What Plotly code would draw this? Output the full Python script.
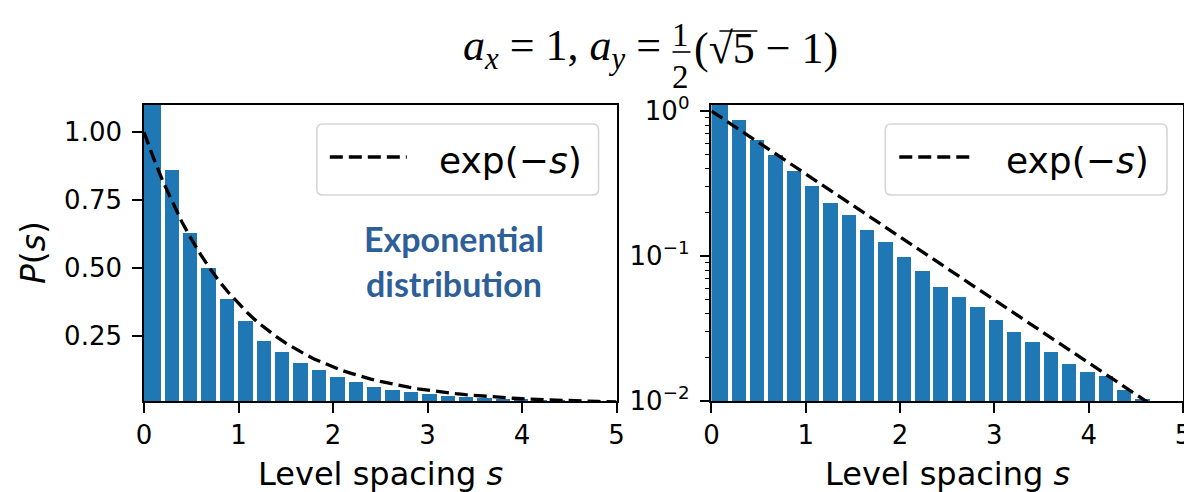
import plotly.graph_objects as go

# ---------------- data ----------------
BIN_CENTERS = [0.100, 0.295, 0.489, 0.684, 0.878, 1.073, 1.268, 1.462, 1.657, 1.851,
               2.046, 2.241, 2.435, 2.630, 2.824, 3.019, 3.214, 3.408, 3.603, 3.797,
               3.992, 4.187, 4.381, 4.576]
P_VALUES = [1.18, 0.862, 0.630, 0.499, 0.386, 0.303, 0.232, 0.191, 0.151, 0.124,
            0.0987, 0.0794, 0.0612, 0.0519, 0.0445, 0.0360, 0.0299, 0.0256, 0.0219, 0.0180,
            0.0159, 0.0148, 0.0119, 0.0104]
S_CURVE = [0.0, 0.1, 0.2, 0.3, 0.4, 0.5, 0.6, 0.7, 0.8, 0.9, 1.0, 1.1, 1.2, 1.3, 1.4,
           1.5, 1.6, 1.7, 1.8, 1.9, 2.0, 2.1, 2.2, 2.3, 2.4, 2.5, 2.6, 2.7, 2.8, 2.9,
           3.0, 3.1, 3.2, 3.3, 3.4, 3.5, 3.6, 3.7, 3.8, 3.9, 4.0, 4.1, 4.2, 4.3, 4.4,
           4.5, 4.6, 4.7, 4.8, 4.9, 5.0]
EXP_CURVE = [1.000, 0.905, 0.819, 0.741, 0.670, 0.607, 0.549, 0.497, 0.449, 0.407,
             0.368, 0.333, 0.301, 0.273, 0.247, 0.223, 0.202, 0.183, 0.165, 0.150,
             0.135, 0.122, 0.111, 0.100, 0.0907, 0.0821, 0.0743, 0.0672, 0.0608, 0.0550,
             0.0498, 0.0450, 0.0408, 0.0369, 0.0334, 0.0302, 0.0273, 0.0247, 0.0224, 0.0202,
             0.0183, 0.0166, 0.0150, 0.0136, 0.0123, 0.0111, 0.0101, 0.00910, 0.00823,
             0.00745, 0.00674]
X_TICKS = [0, 1, 2, 3, 4, 5]
LIN_TICKS = [0.25, 0.50, 0.75, 1.00]
LIN_TICK_TEXT = ["0.25", "0.50", "0.75", "1.00"]
LOG_TICKS = [0.01, 0.1, 1]
LOG_TICK_TEXT = ["10<sup>−2</sup>", "10<sup>−1</sup>", "10<sup>0</sup>"]
LOG_MINOR = [0.02, 0.03, 0.04, 0.05, 0.06, 0.07, 0.08, 0.09,
             0.2, 0.3, 0.4, 0.5, 0.6, 0.7, 0.8, 0.9]
CURVE_LABEL = "exp(−<i>s</i>)"
X_TITLE = "Level spacing <i>s</i>"
Y_TITLE = "<i>P</i>(<i>s</i>)"
NOTE_LINES = ["Exponential", "distribution"]

# ---------------- layout geometry ----------------
# target positions are given in reference-image pixels; the page is rendered
# with an 8px body margin and comes out slightly narrowed horizontally (S).
OFF = 8
S = 1192 / 1200
PL, PR, PT, PB = 143, 1183, 105, 401          # plot area in reference pixels
W, H = 1184, 484
ML, MT = PL / S - OFF, PT - OFF
MR, MB = W - (PR / S - OFF), H - (PB - OFF)
PLr, PRr = PL / S, PR / S


def px(x):
    return (x / S - PLr) / (PRr - PLr)


def py(y):
    return (PB - y) / (PB - PT)


BLUE = "#1f77b4"
TXT_BLUE = "#2f5f98"
FONT = "DejaVu Sans"
SERIF = "Liberation Serif"

bar_w = [0.176] + [0.152] * (len(BIN_CENTERS) - 1)
bar_off = [-0.100] + [-0.076] * (len(BIN_CENTERS) - 1)

fig = go.Figure()
for xa, ya in (("x", "y"), ("x2", "y2")):
    fig.add_trace(go.Bar(x=BIN_CENTERS, y=P_VALUES, width=bar_w, offset=bar_off,
                         marker=dict(color=BLUE, line=dict(width=0)),
                         xaxis=xa, yaxis=ya, showlegend=False))
    fig.add_trace(go.Scatter(x=S_CURVE, y=EXP_CURVE, mode="lines",
                             line=dict(color="black", width=3.3, dash="13px,6px"),
                             name="exp(−s)", xaxis=xa, yaxis=ya, showlegend=False))

axis_common = dict(showline=True, linecolor="black", linewidth=1.6, mirror=True,
                   ticks="outside", ticklen=10, tickwidth=1.6, tickcolor="black",
                   showgrid=False, zeroline=False,
                   tickfont=dict(family=FONT, size=26, color="black"))

fig.update_layout(
    width=W, height=H,
    margin=dict(l=ML, r=MR, t=MT, b=MB, pad=0),
    paper_bgcolor="white", plot_bgcolor="white",
    bargap=0,
    xaxis=dict(domain=[0, px(616)], range=[0, 5], tickvals=X_TICKS, anchor="y", **axis_common),
    yaxis=dict(range=[0.01, 1.1], tickvals=LIN_TICKS, ticktext=LIN_TICK_TEXT, anchor="x",
               ticklabelstandoff=5, **axis_common),
    xaxis2=dict(domain=[px(711), 1.0], range=[0, 5], tickvals=X_TICKS, anchor="y2", **axis_common),
    yaxis2=dict(type="log", range=[-2, 0.0414], tickvals=LOG_TICKS, ticktext=LOG_TICK_TEXT,
                anchor="x2", ticklabelstandoff=5,
                minor=dict(tickvals=LOG_MINOR, ticks="outside", ticklen=5, tickwidth=1.3,
                           tickcolor="black"),
                **axis_common),
)

ann = []
shapes = []

# axis titles
for cx in ((143 + 616) / 2, (711 + 1183) / 2):
    ann.append(dict(text=X_TITLE, x=px(cx), y=py(474), xref="paper", yref="paper",
                    xanchor="center", yanchor="middle", showarrow=False,
                    font=dict(family=FONT, size=32, color="black")))
ann.append(dict(text=Y_TITLE, x=px(32), y=py(253), xref="paper", yref="paper",
                xanchor="center", yanchor="middle", showarrow=False, textangle=-90,
                font=dict(family=FONT, size=33, color="black")))


def path_px(pts_cmds):
    out = []
    for t in pts_cmds.split():
        if "," in t:
            a, b = t.split(",")
            out.append(f"{px(float(a)):.5f},{py(float(b)):.5f}")
        else:
            out.append(t)
    return " ".join(out)


# legends (box + dashed sample + label)
for bx0, bx1, lx0, lx1, tx in ((316, 598, 329, 406, 436), (885, 1167, 899, 974, 1004)):
    by0, by1, rr = 124, 195, 6
    path = (f"M {bx0+rr},{by0} L {bx1-rr},{by0} Q {bx1},{by0} {bx1},{by0+rr} "
            f"L {bx1},{by1-rr} Q {bx1},{by1} {bx1-rr},{by1} L {bx0+rr},{by1} "
            f"Q {bx0},{by1} {bx0},{by1-rr} L {bx0},{by0+rr} Q {bx0},{by0} {bx0+rr},{by0} Z")
    shapes.append(dict(type="path", path=path_px(path), xref="paper", yref="paper",
                       line=dict(color="#d6d6d6", width=1.6),
                       fillcolor="rgba(255,255,255,0.8)", layer="above"))
    shapes.append(dict(type="line", x0=px(lx0), x1=px(lx1), y0=py(157), y1=py(157),
                       xref="paper", yref="paper",
                       line=dict(color="black", width=3.3, dash="13px,6px")))
    ann.append(dict(text=CURVE_LABEL, x=px(tx), y=py(160), xref="paper", yref="paper",
                    xanchor="left", yanchor="middle", showarrow=False,
                    font=dict(family=FONT, size=36, color="black")))

# note text
for line, cy in zip(NOTE_LINES, (238, 283)):
    ann.append(dict(text=f"<b>{line}</b>", x=px(453), y=py(cy), xref="paper", yref="paper",
                    xanchor="center", yanchor="middle", showarrow=False,
                    font=dict(family="Lato", size=34, color=TXT_BLUE)))

# title: a_x = 1, a_y = 1/2 (sqrt5 - 1)
tfont = dict(family=SERIF, size=44, color="black")
ffont = dict(family=SERIF, size=33, color="black")
ann.append(dict(text="<i>a</i><sub><i>x</i></sub> = 1, <i>a</i><sub><i>y</i></sub> =",
                x=px(662), y=py(49), xref="paper", yref="paper", xanchor="right",
                yanchor="middle", showarrow=False, font=tfont))
ann.append(dict(text="1", x=px(680), y=py(35), xref="paper", yref="paper", xanchor="center",
                yanchor="middle", showarrow=False, font=ffont))
ann.append(dict(text="2", x=px(680), y=py(77), xref="paper", yref="paper", xanchor="center",
                yanchor="middle", showarrow=False, font=ffont))
shapes.append(dict(type="line", x0=px(672), x1=px(690), y0=py(52), y1=py(52),
                   xref="paper", yref="paper", line=dict(color="black", width=1.6)))
ann.append(dict(text="(√5 − 1)", x=px(692), y=py(49), xref="paper", yref="paper",
                xanchor="left", yanchor="middle", showarrow=False, font=tfont))
shapes.append(dict(type="line", x0=px(719), x1=px(757), y0=py(31), y1=py(31),
                   xref="paper", yref="paper", line=dict(color="black", width=1.6)))

fig.update_layout(annotations=ann, shapes=shapes)
fig.write_html("out.html")
